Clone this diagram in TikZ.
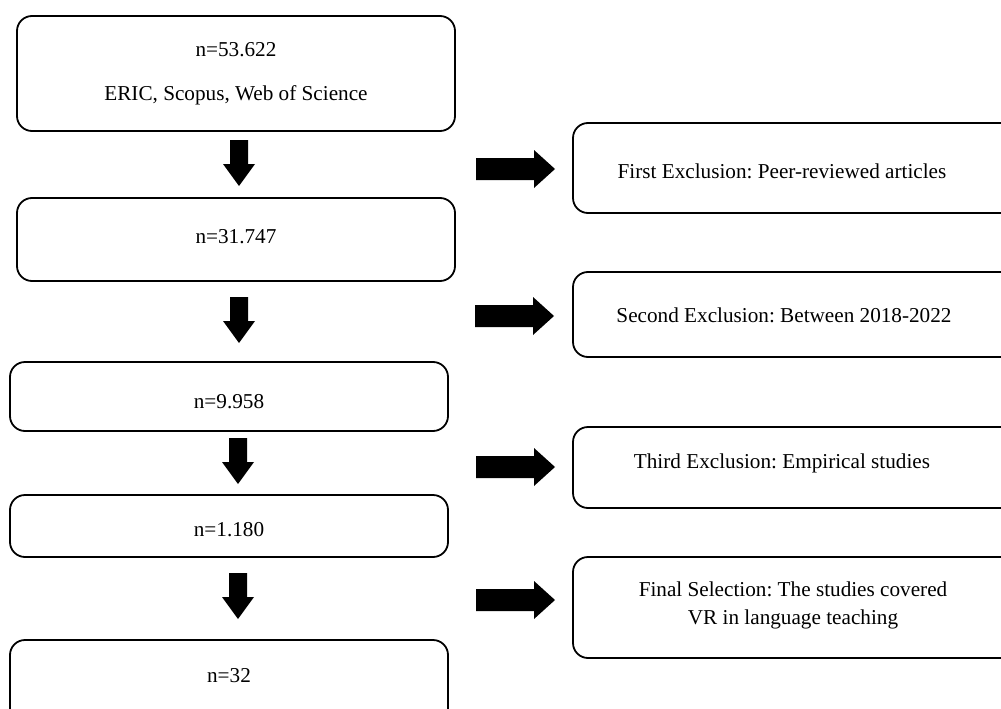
\documentclass[tikz,border=0pt]{standalone}
\usepackage{fontspec}
\setmainfont{Liberation Serif}
\frenchspacing
\begin{document}
\begin{tikzpicture}[x=1pt,y=-1pt,
  box/.style={draw=black,line width=1.8pt,rounded corners=15pt},
  lbl/.style={font=\fontsize{21.2}{28}\selectfont,inner sep=0pt,align=center},
  blk/.style={fill=black,draw=none}]
\useasboundingbox (0,0) rectangle (1001,709);
\clip (0,0) rectangle (1001,709);
% left column boxes
\draw[box] (17,16) rectangle (455,131);
\draw[box] (17,198) rectangle (455,281);
\draw[box] (10,362) rectangle (448,431);
\draw[box] (10,495) rectangle (448,557);
\draw[box] (10,640) rectangle (448,730);
\node[lbl] (t1a) at (236,50) {n=53.622};
\node[lbl] (t1b) at (236,95) {ERIC, Scopus, Web of Science};
\node[lbl] (t2) at (236,237) {n=31.747};
\node[lbl] (t3) at (229,402) {n=9.958};
\node[lbl] (t4) at (229,530) {n=1.180};
\node[lbl] (t5) at (229,676) {n=32};
% right column boxes
\draw[box] (573,123) rectangle (1020,213);
\draw[box] (573,272) rectangle (1020,357);
\draw[box] (573,427) rectangle (1020,508);
\draw[box] (573,557) rectangle (1020,658);
\node[lbl] (r1) at (782,171) {First Exclusion: Peer-reviewed articles};
\node[lbl] (r2) at (784,315) {Second Exclusion: Between 2018-2022};
\node[lbl] (r3) at (782,463) {Third Exclusion: Empirical studies};
\node[lbl] (r4) at (793,605) {Final Selection: The studies covered\\VR in language teaching};
% down block arrows
\foreach \cx/\ty in {239/140, 239/297, 238/438, 238/573}{
  \fill[blk] (\cx-9,\ty) -- (\cx+9,\ty) -- (\cx+9,\ty+24) -- (\cx+16,\ty+24)
    -- (\cx,\ty+46) -- (\cx-16,\ty+24) -- (\cx-9,\ty+24) -- cycle;
}
% right block arrows
\foreach \lx/\cy in {476/169, 475/316, 476/467, 476/600}{
  \fill[blk] (\lx,\cy-11) -- (\lx+58,\cy-11) -- (\lx+58,\cy-19) -- (\lx+79,\cy)
    -- (\lx+58,\cy+19) -- (\lx+58,\cy+11) -- (\lx,\cy+11) -- cycle;
}
\end{tikzpicture}
\end{document}
